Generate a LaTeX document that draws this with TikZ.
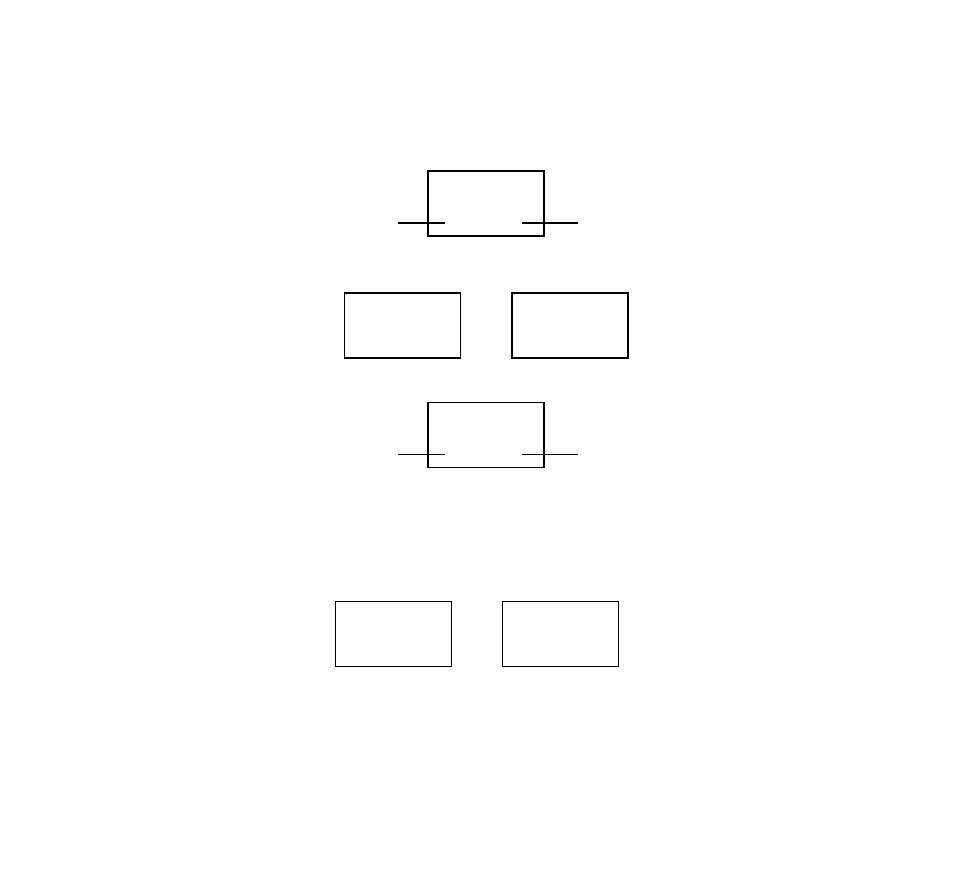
\documentclass[tikz,border=0pt]{standalone}
\begin{document}
\begin{tikzpicture}[x=1pt,y=-1pt,
  blk/.style={draw=black,line width=1.2pt,rectangle,inner sep=0pt,minimum width=116pt,minimum height=65pt},
  lead/.style={draw=black,line width=1.2pt}]
\useasboundingbox (0,0) rectangle (954,879);
\node[blk] (b1) at (486,203.5) {};
\node[blk] (b2) at (402.3,325.5) {};
\node[blk] (b3) at (570,325.5) {};
\node[blk] (b4) at (486,435) {};
\node[blk] (b5) at (393.2,634) {};
\node[blk] (b6) at (560.3,634) {};
\coordinate (l1a) at (398,223);
\coordinate (l1b) at (444.7,223);
\coordinate (r1a) at (522.3,223);
\coordinate (r1b) at (577.7,223);
\coordinate (l4a) at (398,454.7);
\coordinate (l4b) at (444.7,454.7);
\coordinate (r4a) at (522.3,454.7);
\coordinate (r4b) at (577.7,454.7);
\draw[lead] (l1a) -- (l1b);
\draw[lead] (r1a) -- (r1b);
\draw[lead] (l4a) -- (l4b);
\draw[lead] (r4a) -- (r4b);
\end{tikzpicture}
\end{document}
